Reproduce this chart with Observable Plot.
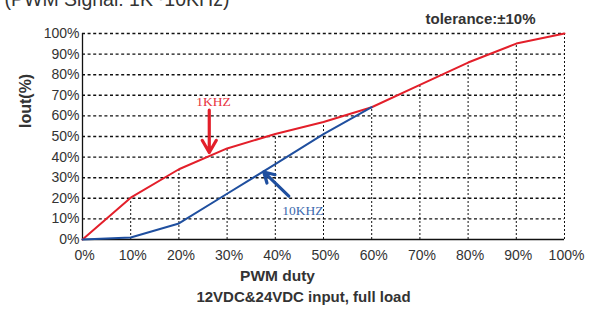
<!DOCTYPE html>
<html>
<head>
<meta charset="utf-8">
<script src="https://cdn.jsdelivr.net/npm/d3@7"></script>
<script src="https://cdn.jsdelivr.net/npm/@observablehq/plot@0.6"></script>
<style>
  html, body { margin: 0; padding: 0; background: #fff; }
  svg { display: block; }
</style>
</head>
<body>
<div id="chart"></div>
<script>
// ---- data ----
const dutyTicks = [0, 10, 20, 30, 40, 50, 60, 70, 80, 90, 100];
const ioutTicks = [0, 10, 20, 30, 40, 50, 60, 70, 80, 90, 100];
const iout1k = [0, 20.3, 34.1, 44.2, 51.2, 57, 64.2, 75.1, 85.9, 95.1, 100];
const duty10k = [0, 10, 20, 30, 40, 50, 60];
const iout10k = [0, 1, 7.8, 22.2, 36.6, 51.2, 64.2];

const titleText = "(PWM Signal: 1K~10KHz)";
const toleranceText = "tolerance:±10%";
const yLabel = "Iout(%)";
const xLabel = "PWM duty";
const noteText = "12VDC&24VDC input, full load";

const seriesLabels = [
  {text: "1KHZ", x: 27.2, y: 67, color: "#e8323c"},
  {text: "10KHZ", x: 45.7, y: 13.8, color: "#3b68ad"}
];
const arrows = [
  {x1: 26.3, y1: 62.8, x2: 26.3, y2: 42.2, color: "#e31f2a"},
  {x1: 42.8, y1: 21.1, x2: 37.6, y2: 32.8, color: "#1f4f9f"}
];

const RED = "#e31f2a";
const BLUE = "#1f4f9f";
const TEXT = "#333";

const curve1k = dutyTicks.map((d, i) => ({duty: d, iout: iout1k[i]}));
const curve10k = duty10k.map((d, i) => ({duty: d, iout: iout10k[i]}));

const chart = Plot.plot({
  width: 600,
  height: 316,
  marginLeft: 82,
  marginRight: 36,
  marginTop: 33,
  marginBottom: 77,
  style: {fontFamily: "'Liberation Sans', Arial, sans-serif", background: "#fff", color: TEXT},
  x: {domain: [0, 100]},
  y: {domain: [0, 100]},
  marks: [
    // horizontal dashed grid
    Plot.ruleY(ioutTicks.filter(d => d > 0), {stroke: "#111", strokeWidth: 1.4, strokeDasharray: "3,2.6"}),
    // vertical dotted lines up to 1KHz curve
    Plot.ruleX(curve1k.filter(d => d.duty > 0), {x: "duty", y1: 0, y2: "iout", stroke: "#111", strokeWidth: 1, strokeDasharray: "2,2"}),
    // axes lines
    Plot.ruleX([0], {y1: 0, y2: 100, stroke: "#111", strokeWidth: 1.3}),
    Plot.ruleY([0], {stroke: "#111", strokeWidth: 1.3}),
    Plot.axisX(dutyTicks, {tickSize: 0, tickPadding: 11, dx: 2, tickFormat: d => d + "%", label: null, fontSize: 14, fill: TEXT}),
    Plot.axisY(ioutTicks, {tickSize: 0, tickPadding: 3, tickFormat: d => d + "%", label: null, fontSize: 14, fill: TEXT}),
    // curves
    Plot.line(curve1k, {x: "duty", y: "iout", stroke: RED, strokeWidth: 2}),
    Plot.line(curve10k, {x: "duty", y: "iout", stroke: BLUE, strokeWidth: 2}),
    // annotations
    Plot.arrow(arrows, {x1: "x1", y1: "y1", x2: "x2", y2: "y2", stroke: "color", strokeWidth: 3.2, headLength: 10, headAngle: 60}),
    Plot.text(seriesLabels, {x: "x", y: "y", text: "text", fill: "color", fontSize: 13.5, fontFamily: "'Liberation Serif', serif"}),
    // titles & labels
    Plot.text([titleText], {frameAnchor: "top-left", dx: -78, dy: -28, textAnchor: "start", lineAnchor: "bottom", fontSize: 19.5, fill: TEXT}),
    Plot.text([toleranceText], {frameAnchor: "top-right", dx: -29, dy: -10, textAnchor: "end", lineAnchor: "bottom", fontSize: 15, fontWeight: "bold", fill: TEXT}),
    Plot.text([yLabel], {frameAnchor: "left", dx: -57, dy: -8.5, rotate: -90, fontSize: 16, fontWeight: "bold", fill: TEXT}),
    Plot.text([xLabel], {frameAnchor: "bottom", dx: -46, dy: 41, fontSize: 15.5, fontWeight: "bold", fill: TEXT}),
    Plot.text([noteText], {frameAnchor: "bottom", dx: -20, dy: 62.5, fontSize: 15, fontWeight: "bold", fill: TEXT})
  ]
});
document.getElementById("chart").appendChild(chart);
</script>
</body>
</html>
